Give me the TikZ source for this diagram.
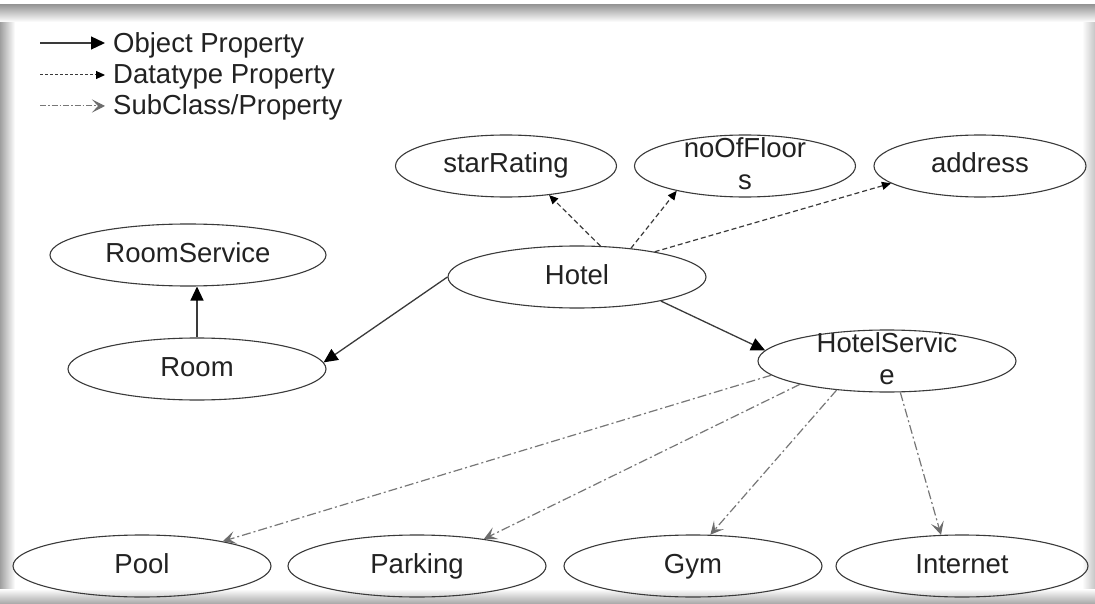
\documentclass[tikz,border=0pt]{standalone}
\usepackage{fontspec}
\setmainfont{Liberation Sans}
\usetikzlibrary{shapes.geometric,arrows.meta}
\definecolor{ink}{HTML}{222222}
\definecolor{edgegray}{HTML}{3A3A3A}
\definecolor{subgray}{HTML}{777777}
\newcommand{\lblfont}{\fontsize{27.5}{32}\selectfont}
\newcommand{\wrapped}[2]{\smash{\begin{tabular}{@{}c@{}}#1\\#2\end{tabular}}}

\begin{document}
\begin{tikzpicture}[x=1pt,y=-1pt,
  cls/.style={ellipse,draw=edgegray,line width=1.1pt,minimum width=258pt,minimum height=62pt,
    inner sep=0pt,text=ink,font=\lblfont,text height=19.5pt,text depth=5.5pt},
  lit/.style={cls,minimum width=221pt},
  legtext/.style={anchor=west,inner sep=0pt,text=ink,font=\lblfont,text height=19.5pt,text depth=5.5pt},
  objprop/.style={draw=edgegray,line width=1.3pt,-{Triangle[length=14pt,width=13pt,black]}},
  dataprop/.style={draw=edgegray,line width=1.2pt,dash pattern=on 5pt off 3pt,-{Triangle[length=9pt,width=8pt,black]}},
  subprop/.style={draw=subgray,line width=1.2pt,dash pattern=on 9pt off 3pt on 2pt off 3pt,
    -{Stealth[length=13pt,width=13pt,inset=6pt,gray!85!black]}}]
  \useasboundingbox (0,0) rectangle (1095,604);
  % frame
  \fill[white] (0,0) rectangle (1095,604);
  \shade[left color=gray!75,right color=white] (0,5) rectangle (15,604);
  \shade[left color=white,right color=gray!45] (1082,5) rectangle (1095,604);
  \shade[top color=gray!80,bottom color=white] (0,5) rectangle (1095,22);
  \shade[top color=white,bottom color=gray!70] (0,589) rectangle (1095,604);

  % legend
  \node[legtext] (lgObject) at (113,46) {Object Property};
  \node[legtext] (lgData) at (113,77) {Datatype Property};
  \node[legtext] (lgSub) at (113,108) {SubClass/Property};
  \coordinate (lgObjectTail) at (40,43);
  \coordinate (lgDataTail) at (40,75);
  \coordinate (lgSubTail) at (40,106);
  \draw[objprop,shorten >=8pt] (lgObjectTail) -- (lgObjectTail -| lgObject.west);
  \draw[dataprop,line width=1pt,dash pattern=on 3pt off 2pt,shorten >=8pt] (lgDataTail) -- (lgDataTail -| lgData.west);
  \draw[subprop,line width=1pt,dash pattern=on 6pt off 2pt on 1.5pt off 2pt,shorten >=8pt] (lgSubTail) -- (lgSubTail -| lgSub.west);

  % classes and literals
  \node[lit] (starRating) at (506,166) {starRating};
  \node[lit] (noOfFloors) at (745,166) {\wrapped{noOfFloor}{s}};
  \node[lit,minimum width=212pt] (address) at (980,166) {address};
  \node[cls] (hotel) at (577,277) {Hotel};
  \node[cls,minimum width=276pt] (roomService) at (188,255) {RoomService};
  \node[cls] (room) at (197,369) {Room};
  \node[cls] (hotelService) at (887,361) {\wrapped{HotelServic}{e}};
  \node[cls] (pool) at (142,566) {Pool};
  \node[cls] (parking) at (417,566) {Parking};
  \node[cls] (gym) at (693,566) {Gym};
  \node[cls,minimum width=252pt] (internet) at (962,566) {Internet};

  % datatype properties
  \draw[dataprop] (hotel.53) -- (starRating.-34);
  \draw[dataprop] (hotel.28) -- (noOfFloors.200);
  \draw[dataprop] (hotel.18) -- (address.191);
  % object properties
  \draw[objprop] (hotel.west) -- (room.3);
  \draw[objprop] (hotel.-16) -- (hotelService.175);
  \draw[objprop] (room.north) -- (room.north |- roomService.south);
  % subclasses
  \draw[subprop] (hotelService.187) -- (pool.17);
  \draw[subprop] (hotelService.195) -- (parking.22);
  \draw[subprop] (hotelService.210) -- (gym.61);
  \draw[subprop] (hotelService.293) -- (internet.124);
\end{tikzpicture}
\end{document}
